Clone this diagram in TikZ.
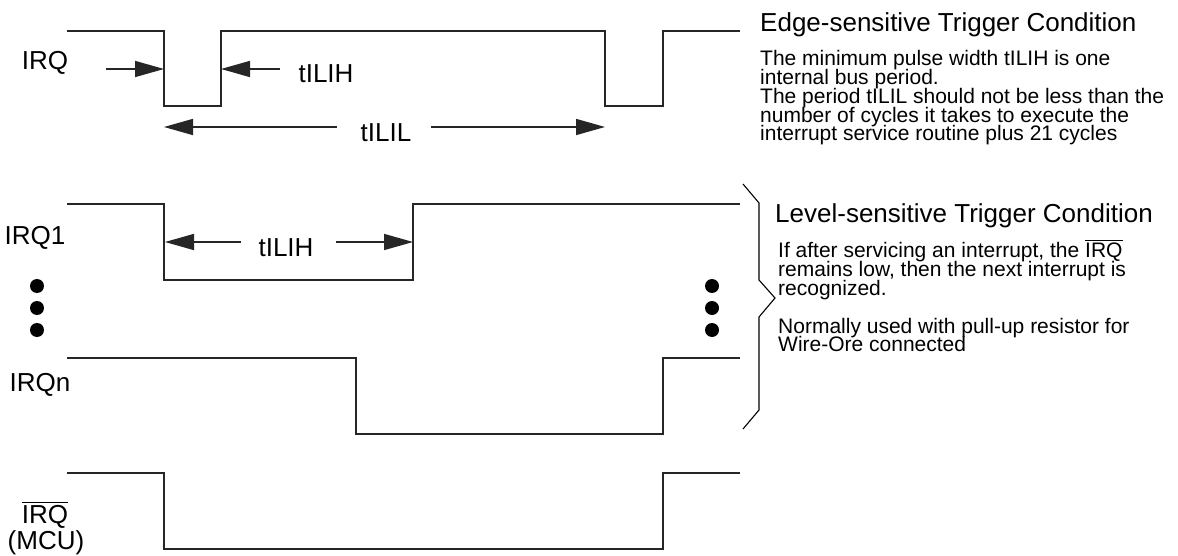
\documentclass[tikz,border=0pt]{standalone}
\usepackage{fontspec}
\setmainfont{Liberation Sans}
\usetikzlibrary{arrows.meta}
\newcommand\ovbar[2][1pt]{\vbox{\hrule height #1\kern2.5pt\hbox{#2}}}
\begin{document}
\begin{tikzpicture}[x=1pt,y=-1pt,
  sig/.style={line width=1.7pt, line join=miter, draw=black!85},
  arr/.style={line width=1.7pt, draw=black!85, -{Triangle[length=29pt,width=16pt]}},
  lbl/.style={font=\fontsize{26}{28}\selectfont, inner sep=0pt, anchor=base},
  ttl/.style={font=\fontsize{26}{28}\selectfont, inner sep=0pt, anchor=base west},
  txt/.style={font=\fontsize{21}{19}\selectfont, inner sep=0pt, anchor=base west},
  bigdot/.style={circle, fill=black, inner sep=0pt, minimum size=14pt},
  brace/.style={line width=1.1pt, line join=miter}]
\useasboundingbox (0,0) rectangle (1178,556);

% ---------- Edge-sensitive ----------
\draw[sig] (67,31) -- (164,31) -- (164,106) -- (221,106) -- (221,31) -- (605,31)
  -- (605,106) -- (663,106) -- (663,31) -- (740,31);
\node[lbl] (irq) at (45,70) {IRQ};
\coordinate (e1) at (164,69);
\coordinate (e2) at (221,69);
\coordinate (a1) at (106,69);
\coordinate (a2) at (280,69);
\draw[arr] (a1) -- (e1);
\draw[arr] (a2) -- (e2);
\node[lbl] (tilih1) at (326,83) {tILIH};
\node[lbl] (tilil) at (386,142) {tILIL};
\coordinate (l1) at (164,127);
\coordinate (l2) at (605,127);
\coordinate (l1t) at (337,127);
\coordinate (l2t) at (431,127);
\draw[arr] (l1t) -- (l1);
\draw[arr] (l2t) -- (l2);

\node[ttl] (edgettl) at (760,32) {Edge-sensitive Trigger Condition};
\node[txt] (ed1) at (760,66) {The minimum pulse width tILIH is one};
\node[txt] (ed2) at (760,84.75) {internal bus period.};
\node[txt] (ed3) at (760,103.5) {The period tILIL should not be less than the};
\node[txt] (ed4) at (760,122.25) {number of cycles it takes to execute the};
\node[txt] (ed5) at (760,141) {interrupt service routine plus 21 cycles};

% ---------- Level-sensitive ----------
\draw[sig] (67,204) -- (164,204) -- (164,280) -- (413,280) -- (413,204) -- (740,204);
\node[lbl] (irq1) at (35,244) {IRQ1};
\coordinate (m1) at (165,242);
\coordinate (m2) at (413,242);
\coordinate (m1t) at (241,242);
\coordinate (m2t) at (336,242);
\draw[arr] (m1t) -- (m1);
\draw[arr] (m2t) -- (m2);
\node[lbl] (tilih2) at (286,257) {tILIH};

\node[bigdot] (dl1) at (37,286) {};
\node[bigdot] (dl2) at (37,308) {};
\node[bigdot] (dl3) at (37,330) {};
\node[bigdot] (dr1) at (712,286) {};
\node[bigdot] (dr2) at (712,308) {};
\node[bigdot] (dr3) at (712,330) {};

\draw[sig] (67,358) -- (356,358) -- (356,434) -- (663,434) -- (663,358) -- (740,358);
\node[lbl] (irqn) at (40,391) {IRQn};

\draw[brace] (743,184) -- (759,203) -- (759,280) -- (775,298) -- (759,317) -- (759,410) -- (743,429);

\node[ttl] (levelttl) at (775,223) {Level-sensitive Trigger Condition};
\node[txt] (lv1) at (778,258) {If after servicing an interrupt, the \ovbar[0.9pt]{IRQ}};
\node[txt] (lv2) at (778,276.75) {remains low, then the next interrupt is};
\node[txt] (lv3) at (778,295.5) {recognized.};
\node[txt] (lv4) at (778,333) {Normally used with pull-up resistor for};
\node[txt] (lv5) at (778,351.75) {Wire-Ore connected};

% ---------- IRQ (MCU) ----------
\draw[sig] (67,473) -- (164,473) -- (164,549) -- (663,549) -- (663,473) -- (740,473);
\node[lbl] (irqbar) at (45,523.5) {\ovbar[1.2pt]{IRQ}};
\node[lbl] (mcu) at (46,549) {(MCU)};
\end{tikzpicture}
\end{document}
